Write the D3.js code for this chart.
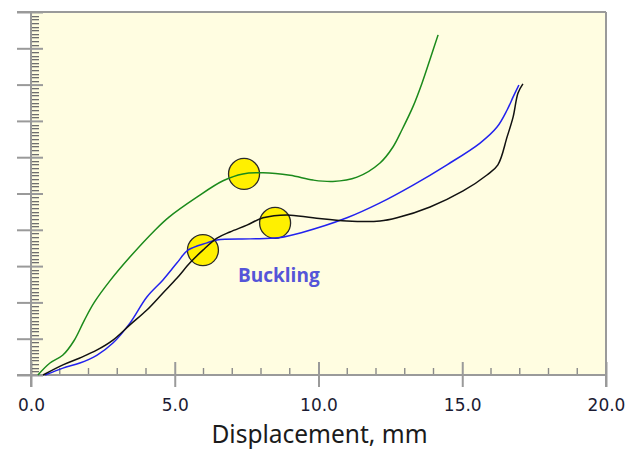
<!DOCTYPE html>
<html>
<head>
<meta charset="utf-8">
<script src="https://cdn.jsdelivr.net/npm/d3@7"></script>
<style>
  html, body { margin: 0; padding: 0; background: #fff; }
  svg { display: block; }
</style>
</head>
<body>
<div id="chart"></div>
<script>
// displacement (mm) vs load (arbitrary, 10 major divisions)
const greenCurve = [
  [0.24, 0], [0.66, 0.33], [1.11, 0.55], [1.50, 0.95], [1.85, 1.50], [2.20, 2.00],
  [2.75, 2.60], [3.44, 3.25], [4.31, 3.99], [4.80, 4.35], [5.77, 4.90], [6.68, 5.35],
  [7.37, 5.54], [8.07, 5.57], [9.01, 5.50], [9.81, 5.37], [10.50, 5.33], [11.34, 5.45],
  [12.14, 5.84], [12.59, 6.28], [12.90, 6.75], [13.29, 7.40], [13.60, 8.04], [13.88, 8.70],
  [14.16, 9.37]
];
const blackCurve = [
  [0.42, 0], [1.11, 0.28], [1.70, 0.47], [2.30, 0.69], [2.85, 0.96], [3.44, 1.38],
  [4.03, 1.79], [4.59, 2.26], [5.08, 2.67], [5.53, 3.09], [5.98, 3.44], [6.47, 3.77],
  [6.92, 3.94], [7.51, 4.13], [8.07, 4.33], [8.90, 4.41], [9.81, 4.33], [10.99, 4.24],
  [12.14, 4.24], [12.73, 4.33], [13.88, 4.63], [15.03, 5.07], [15.86, 5.51], [16.24, 5.79],
  [16.56, 6.56], [16.77, 7.11], [16.94, 7.77], [17.11, 8.02]
];
const blueCurve = [
  [0.49, 0], [1.11, 0.19], [1.70, 0.33], [2.30, 0.55], [2.85, 0.88], [3.44, 1.43],
  [4.03, 2.15], [4.59, 2.62], [5.08, 3.09], [5.46, 3.44], [6.12, 3.64], [6.47, 3.72],
  [7.62, 3.75], [8.60, 3.78], [9.40, 3.92], [10.99, 4.33], [12.14, 4.74], [13.29, 5.23],
  [14.47, 5.79], [15.62, 6.39], [16.21, 6.83], [16.56, 7.30], [16.77, 7.66], [16.97, 7.99]
];
const markers = [[7.41, 5.54], [8.49, 4.19], [5.98, 3.44]];
const xTicks = [0, 5, 10, 15, 20];
const xLabel = 'Displacement, mm';
const noteText = 'Buckling';
const notePos = [7.2, 2.55];

const W = 639, H = 452;
const margin = { top: 12, right: 33, bottom: 77, left: 31 };

const svg = d3.select('#chart').append('svg')
  .attr('width', W)
  .attr('height', H);

const x = d3.scaleLinear().domain([0, 20]).range([margin.left, W - margin.right]);
const y = d3.scaleLinear().domain([0, 10]).range([H - margin.bottom, margin.top]);

const axisColor = '#9a9a9a';

// plot background
svg.append('rect')
  .attr('x', x(0)).attr('y', y(10))
  .attr('width', x(20) - x(0)).attr('height', y(0) - y(10))
  .attr('fill', '#fffde1');

// x axis: major ticks crossing the line, minor ticks pointing up
const xMinor = d3.range(0, 21, 1).filter(v => v % 5 !== 0);
svg.append('g')
  .selectAll('line')
  .data(xMinor)
  .enter()
  .append('line')
    .attr('x1', d => x(d)).attr('x2', d => x(d))
    .attr('y1', y(0) - 7).attr('y2', y(0))
    .attr('stroke', '#8a8a8a').attr('stroke-width', 1.4);

const xAxis = svg.append('g')
  .attr('transform', `translate(0,${y(0)})`)
  .call(d3.axisBottom(x).tickValues(xTicks).tickFormat(d3.format('.1f')).tickSizeOuter(0).tickPadding(18));
xAxis.select('.domain').remove();
xAxis.selectAll('.tick line')
  .attr('y1', -13).attr('y2', 12)
  .attr('stroke', axisColor).attr('stroke-width', 2);
xAxis.selectAll('.tick text')
  .attr('font-family', '"DejaVu Sans", Verdana, sans-serif')
  .attr('font-size', '17px')
  .attr('fill', '#1b1b33');

// y axis: minor ticks every 0.1, major every 1 (no labels)
const yMinor = d3.range(1, 100).filter(v => v % 10 !== 0).map(v => v / 10);
svg.append('g')
  .selectAll('rect')
  .data(yMinor)
  .enter()
  .append('rect')
    .attr('x', x(0))
    .attr('y', d => Math.round(y(d)))
    .attr('width', 8)
    .attr('height', 1.3)
    .attr('fill', '#6e6e6e');

const yAxis = svg.append('g')
  .attr('transform', `translate(${x(0)},0)`)
  .call(d3.axisLeft(y).ticks(10).tickFormat('').tickSizeOuter(0));
yAxis.select('.domain').remove();
yAxis.selectAll('.tick line')
  .attr('x1', -14).attr('x2', 12)
  .attr('stroke', axisColor).attr('stroke-width', 2);

// frame lines
const frame = svg.append('g').attr('stroke', axisColor).attr('stroke-width', 2);
frame.append('line').attr('x1', x(0) - 14).attr('x2', x(20)).attr('y1', y(0)).attr('y2', y(0));
frame.append('line').attr('x1', x(0) - 14).attr('x2', x(20)).attr('y1', y(10)).attr('y2', y(10));
frame.append('line').attr('x1', x(0)).attr('x2', x(0)).attr('y1', y(10)).attr('y2', y(0) + 12);
frame.append('line').attr('x1', x(20)).attr('x2', x(20)).attr('y1', y(10)).attr('y2', y(0) + 12);

// markers sit under the curves
svg.append('g')
  .selectAll('circle')
  .data(markers)
  .enter()
  .append('circle')
    .attr('cx', d => x(d[0]))
    .attr('cy', d => y(d[1]))
    .attr('r', 15.5)
    .attr('fill', '#fff000')
    .attr('stroke', '#2a2a2a')
    .attr('stroke-width', 1.3);

const line = d3.line()
  .x(d => x(d[0]))
  .y(d => y(d[1]))
  .curve(d3.curveCatmullRom.alpha(0.5));

[
  { data: greenCurve, color: '#1b8a1b' },
  { data: blueCurve, color: '#2222ee' },
  { data: blackCurve, color: '#111111' }
].forEach(s => {
  svg.append('path')
    .datum(s.data)
    .attr('d', line)
    .attr('fill', 'none')
    .attr('stroke', s.color)
    .attr('stroke-width', 1.5);
});

svg.append('text')
  .attr('x', x(notePos[0]))
  .attr('y', y(notePos[1]))
  .attr('font-family', '"Open Sans", "Noto Sans", sans-serif')
  .attr('font-weight', 'bold')
  .attr('font-size', '19px')
  .attr('fill', '#5555d8')
  .text(noteText);

svg.append('text')
  .attr('x', (x(0) + x(20)) / 2 + 1)
  .attr('y', 443)
  .attr('text-anchor', 'middle')
  .attr('font-family', '"Noto Sans", sans-serif')
  .attr('font-size', '24.5px')
  .attr('fill', '#1b1b1b')
  .text(xLabel);
</script>
</body>
</html>
